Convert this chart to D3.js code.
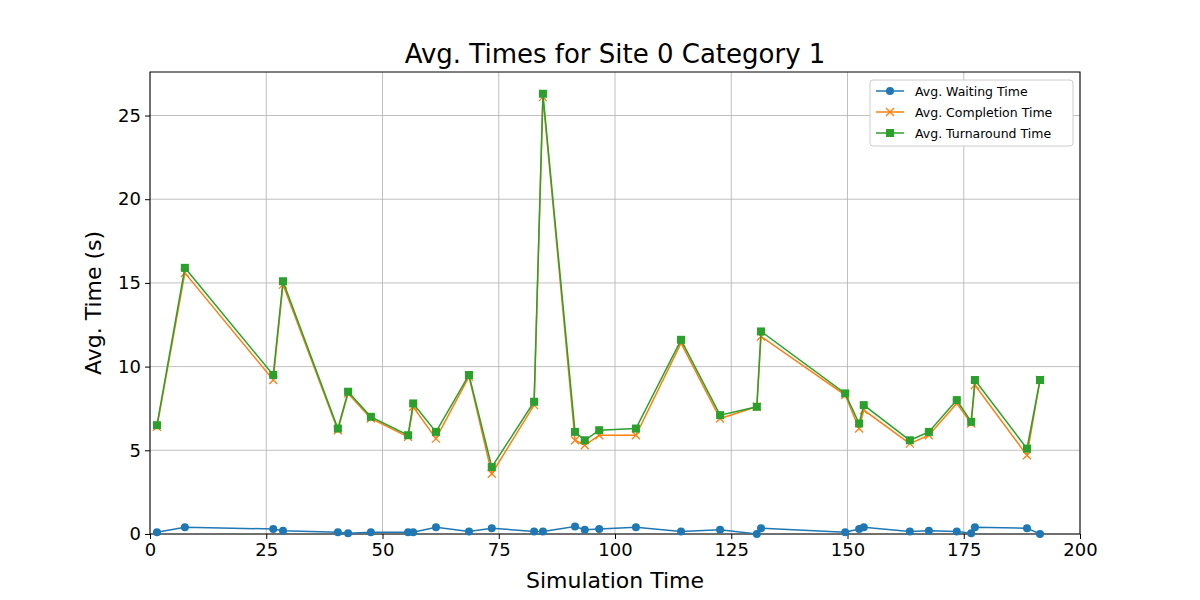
<!DOCTYPE html>
<html><head><meta charset="utf-8">
<script src="https://cdn.jsdelivr.net/npm/d3@7"></script>
<style>body{margin:0;background:#fff;font-family:"DejaVu Sans",sans-serif}</style>
</head><body><svg id="c" width="1200" height="600"></svg>
<script>
const simTime=[1.5,7.5,26.5,28.6,40.4,42.6,47.5,55.5,56.6,61.5,68.6,73.5,82.6,84.5,91.4,93.5,96.6,104.5,114.2,122.6,130.5,131.4,149.5,152.5,153.5,163.4,167.5,173.5,176.6,177.4,188.6,191.4];
const waiting=[0.1,0.4,0.3,0.2,0.1,0.05,0.1,0.1,0.1,0.4,0.15,0.35,0.15,0.15,0.45,0.25,0.3,0.4,0.15,0.25,0.0,0.35,0.1,0.3,0.4,0.15,0.2,0.15,0.05,0.4,0.35,0.0];
const completion=[6.4,15.6,9.2,14.9,6.2,8.4,6.9,5.8,7.6,5.7,9.4,3.6,7.7,26.1,5.6,5.3,5.9,5.9,11.4,6.9,7.6,11.8,8.3,6.3,7.4,5.4,5.9,7.8,6.6,8.9,4.7,9.2];
const turnaround=[6.5,15.9,9.5,15.1,6.3,8.5,7.0,5.9,7.8,6.1,9.5,4.0,7.9,26.3,6.1,5.6,6.2,6.3,11.6,7.1,7.6,12.1,8.4,6.6,7.7,5.6,6.1,8.0,6.7,9.2,5.1,9.2];
const xTicks=[0,25,50,75,100,125,150,175,200];
const yTicks=[0,5,10,15,20,25];
const seriesNames=["Avg. Waiting Time","Avg. Completion Time","Avg. Turnaround Time"];
const colors=["#1f77b4","#ff7f0e","#2ca02c"];

const svg=d3.select("#c");
const L=150,R=1080,T=72,B=534;
const x=d3.scaleLinear().domain([0,200]).range([L,R]);
const y=d3.scaleLinear().domain([0,27.6]).range([B,T]);
const g=svg.append("g");
// grid
g.selectAll(".gx").data(xTicks).enter().append("line").attr("x1",d=>x(d)).attr("x2",d=>x(d)).attr("y1",T).attr("y2",B).attr("stroke","#b0b0b0").attr("stroke-width",0.8);
g.selectAll(".gy").data(yTicks).enter().append("line").attr("y1",d=>y(d)).attr("y2",d=>y(d)).attr("x1",L).attr("x2",R).attr("stroke","#b0b0b0").attr("stroke-width",0.8);
const ax=svg.append("g").attr("transform",`translate(0,${B})`).call(d3.axisBottom(x).tickValues(xTicks).tickSize(5).tickPadding(4));
const ay=svg.append("g").attr("transform",`translate(${L},0)`).call(d3.axisLeft(y).tickValues(yTicks).tickSize(5).tickPadding(4));
[ax,ay].forEach(a=>{a.selectAll("text").attr("font-size",18).attr("font-family","DejaVu Sans").attr("fill","#000");a.select(".domain").remove();a.selectAll("line").attr("stroke","#000");});
svg.append("rect").attr("x",L).attr("y",T).attr("width",R-L).attr("height",B-T).attr("fill","none").attr("stroke","#000").attr("stroke-width",1);
const data=[waiting,completion,turnaround];
const line=d3.line().x((d,i)=>x(simTime[i])).y(d=>y(d));
data.forEach((s,k)=>{
  svg.append("path").datum(s).attr("d",line).attr("fill","none").attr("stroke",colors[k]).attr("stroke-width",1.5);
  const m=svg.append("g");
  s.forEach((v,i)=>{
    const cx=x(simTime[i]),cy=y(v);
    if(k===0)m.append("circle").attr("cx",cx).attr("cy",cy).attr("r",4).attr("fill",colors[0]);
    else if(k===1)m.append("path").attr("d",`M${cx-4},${cy-4}L${cx+4},${cy+4}M${cx-4},${cy+4}L${cx+4},${cy-4}`).attr("stroke",colors[1]).attr("stroke-width",1.3);
    else m.append("rect").attr("x",cx-4).attr("y",cy-4).attr("width",8).attr("height",8).attr("fill",colors[2]);
  });
});
svg.append("text").attr("x",(L+R)/2).attr("y",63).attr("text-anchor","middle").attr("font-size",26).text("Avg. Times for Site 0 Category 1");
svg.append("text").attr("x",(L+R)/2).attr("y",588).attr("text-anchor","middle").attr("font-size",22).text("Simulation Time");
svg.append("text").attr("transform",`translate(101,${(T+B)/2}) rotate(-90)`).attr("text-anchor","middle").attr("font-size",22).text("Avg. Time (s)");
// legend
const lg=svg.append("g").attr("transform","translate(870,80)");
lg.append("rect").attr("width",203).attr("height",66).attr("rx",3).attr("fill","#fff").attr("stroke","#ccc");
seriesNames.forEach((n,k)=>{
  const yy=11+k*21;
  lg.append("line").attr("x1",6).attr("x2",34).attr("y1",yy).attr("y2",yy).attr("stroke",colors[k]).attr("stroke-width",1.5);
  if(k===0)lg.append("circle").attr("cx",20).attr("cy",yy).attr("r",4).attr("fill",colors[0]);
  else if(k===1)lg.append("path").attr("d",`M16,${yy-4}L24,${yy+4}M16,${yy+4}L24,${yy-4}`).attr("stroke",colors[1]).attr("stroke-width",1.3);
  else lg.append("rect").attr("x",16).attr("y",yy-4).attr("width",8).attr("height",8).attr("fill",colors[2]);
  lg.append("text").attr("x",45).attr("y",yy+4.5).attr("font-size",12.5).text(n);
});
</script></body></html>
